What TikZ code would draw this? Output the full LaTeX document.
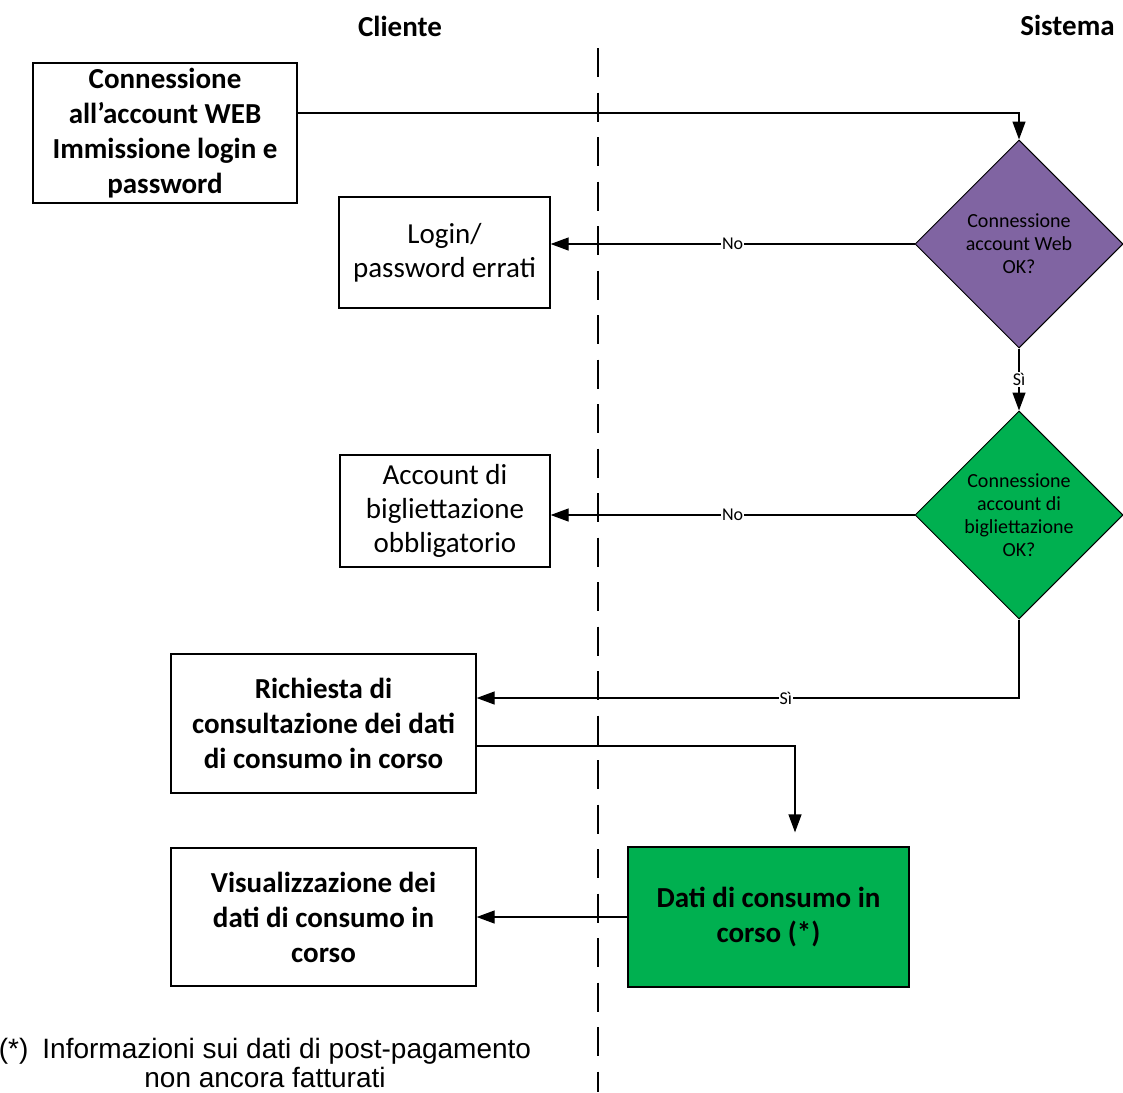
\documentclass[tikz,border=0pt]{standalone}
\usepackage{fontspec}
\setmainfont{Carlito}
\newfontfamily\notefont{Liberation Sans}
\usetikzlibrary{arrows.meta,shapes.geometric}
\definecolor{viola}{HTML}{8064A2}
\definecolor{verde}{HTML}{00B050}
\tikzset{
	box/.style={draw, line width=1.3pt, align=center, inner sep=0pt, font=\fontsize{29}{34}\selectfont},
	bbox/.style={box, font=\fontsize{29}{35}\selectfont\bfseries},
	decision/.style={diamond, draw, line width=1pt, aspect=1, minimum width=208pt, minimum height=208pt, inner sep=0pt, align=center, font=\fontsize{20}{23}\selectfont},
	arr/.style={line width=1.3pt, -{Triangle[length=18pt,width=13pt]}},
	lbl/.style={fill=white, inner sep=1pt, font=\fontsize{18}{20}\selectfont},
	lane/.style={font=\fontsize{29}{34}\selectfont\bfseries}
}

\begin{document}
\begin{tikzpicture}[x=1pt, y=-1pt]

\useasboundingbox (0,0) rectangle (1123,1092);
\clip (0,0) rectangle (1123,1092);

\node[lane] (cliente) at (400,26) {Cliente};
\node[lane] (sistema) at (1067.5,25) {Sistema};

\coordinate (lanetop) at (598,48);
\coordinate (lanebot) at (598,1092);
\draw[line width=1.3pt, dash pattern=on 29pt off 15.5pt] (lanetop) -- (lanebot);

\node[bbox, minimum width=264pt, minimum height=140pt] (conn) at (165,133) {Connessione\\all’account WEB\\Immissione login e\\password};
\node[box, minimum width=211pt, minimum height=111pt] (errati) at (444.5,252.5) {Login/\\password errati};
\node[box, minimum width=210pt, minimum height=112pt] (obblig) at (445,511) {Account di\\bigliettazione\\obbligatorio};
\node[bbox, minimum width=305pt, minimum height=139pt] (richiesta) at (323.5,723.5) {Richiesta di\\consultazione dei dati\\di consumo in corso};
\node[bbox, minimum width=305pt, minimum height=138pt] (visual) at (323.5,917) {Visualizzazione dei\\dati di consumo in\\corso};
\node[bbox, fill=verde, minimum width=281pt, minimum height=140pt] (dati) at (768.5,917) {Dati di consumo in\\corso (*)};

\node[decision, fill=viola] (webok) at (1019,244) {Connessione\\account Web\\OK?};
\node[decision, fill=verde] (bigok) at (1019,515) {Connessione\\account di\\bigliettazione\\OK?};

\draw[arr] ([yshift=20pt]conn.east) -| (webok.north);
\draw[arr] (webok.west) -- (webok.west -| errati.east) node[lbl, midway] {No};
\draw[arr] (webok.south) -- (bigok.north) node[lbl, midway] {Sì};
\draw[arr] (bigok.west) -- (bigok.west -| obblig.east) node[lbl, midway] {No};
\draw[arr] (bigok.south) |- ([yshift=25.5pt]richiesta.east) node[lbl, pos=0.715] {Sì};
\draw[arr, shorten >=14pt] ([yshift=-22.5pt]richiesta.east) -| ([xshift=26.5pt]dati.north);
\draw[arr] (dati.west) -- (visual.east);

\node[font=\notefont\fontsize{28}{29}\selectfont, align=center] (nota) at (265,1063) {(*)\hspace{14pt}Informazioni sui dati di post-pagamento\\non ancora fatturati};

\end{tikzpicture}
\end{document}
